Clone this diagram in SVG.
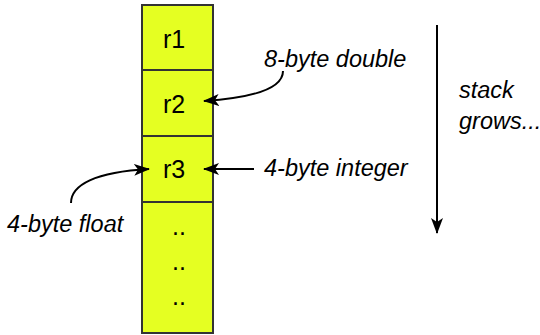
<svg xmlns="http://www.w3.org/2000/svg" width="540" height="335" viewBox="0 0 540 335">
<defs>
<style>
.cell{fill:#e5ff22;stroke:#333;stroke-width:2}
.lbl{font-family:"Liberation Sans",Arial,sans-serif;font-size:25px;fill:#000;text-anchor:middle}
.note{font-family:"Liberation Sans",Arial,sans-serif;font-size:23.5px;font-style:italic;fill:#000}
.conn{fill:none;stroke:#000;stroke-width:2}
</style>
<marker id="ah" viewBox="0 0 16 12" refX="15" refY="6" markerWidth="16" markerHeight="12" markerUnits="userSpaceOnUse" orient="auto">
<path d="M0,0 L16,6 L0,12 L4,6 Z" fill="#000"/>
</marker>
</defs>
<rect width="540" height="335" fill="#fff"/>
<g id="r1"><rect class="cell" x="142" y="5" width="71" height="65"/><text class="lbl" x="174" y="48">r1</text></g>
<g id="r2"><rect class="cell" x="142" y="70" width="71" height="66"/><text class="lbl" x="174" y="113">r2</text></g>
<g id="r3"><rect class="cell" x="142" y="136" width="71" height="66"/><text class="lbl" x="174" y="178">r3</text></g>
<g id="rest"><rect class="cell" x="142" y="202" width="71" height="131"/>
<text class="lbl" x="179" y="235">..</text>
<text class="lbl" x="179" y="270">..</text>
<text class="lbl" x="179" y="305">..</text></g>
<g id="notes">
<text class="note" x="264" y="67">8-byte double</text>
<text class="note" x="264" y="176">4-byte integer</text>
<text class="note" x="7" y="232">4-byte float</text>
<text class="note" x="459" y="98">stack</text>
<text class="note" x="459" y="129">grows...</text>
</g>
<g id="connectors">
<path class="conn" d="M283,71 C283,90 250,98 204,101" marker-end="url(#ah)"/>
<path class="conn" d="M254,169 L204,169" marker-end="url(#ah)"/>
<path class="conn" d="M71,203 C71,185 95,172 149,169" marker-end="url(#ah)"/>
<path class="conn" d="M437,25 L437,233" marker-end="url(#ah)"/>
</g>
</svg>
